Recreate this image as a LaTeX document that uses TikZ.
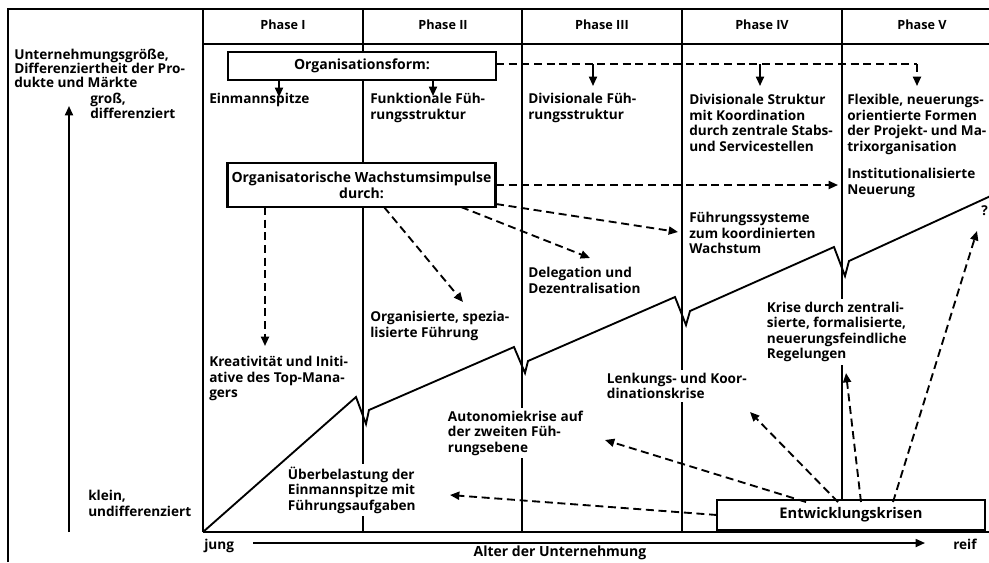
\documentclass[tikz,border=0pt]{standalone}
\usepackage{fontspec}
\setmainfont{Open Sans}
\usetikzlibrary{arrows.meta}
\begin{document}
\begin{tikzpicture}[x=0.75pt,y=-0.75pt,
  frame/.style={line width=1.5pt},
  txt/.style={anchor=north west,inner sep=0pt,align=left,font=\fontsize{10.2}{11.6}\selectfont\bfseries},
  crisis/.style={txt,fill=white,inner sep=2pt},
  phase/.style={inner sep=0pt,font=\fontsize{9.5}{11}\selectfont\bfseries},
  boxa/.style={draw,line width=1.6pt,fill=white,inner sep=0pt,align=center,font=\fontsize{10.5}{12}\selectfont\bfseries,minimum width=201pt},
  arr/.style={line width=1.3pt,-{Triangle[length=7pt,width=6pt]}},
  dsh/.style={line width=1.4pt,dash pattern=on 6pt off 3.5pt,-{Triangle[length=7pt,width=6pt]}},
  dshl/.style={line width=1.4pt,dash pattern=on 6pt off 3.5pt}]
\useasboundingbox (0,0) rectangle (989,562);
\clip (0,0) rectangle (989,562);
% frame and grid
\draw[frame] (8,562) -- (8,9) -- (995,9);
\draw[frame] (203,44) -- (995,44);
\foreach \xx in {203,363,522,682,842} \draw[frame] (\xx,9) -- (\xx,532);
\draw[frame] (203,532) -- (995,532);
% phase labels
\node[phase] (p1) at (283,25) {Phase I};
\node[phase] (p2) at (443,25) {Phase II};
\node[phase] (p3) at (602,25) {Phase III};
\node[phase] (p4) at (762,25) {Phase IV};
\node[phase] (p5) at (922,25) {Phase V};
% crisis texts (interrupt column lines)
\node[crisis] (ueb) at (285,464) {Überbelastung der\\Einmannspitze mit\\Führungsaufgaben};
\node[crisis] (auto) at (445,408) {Autonomiekrise auf\\der zweiten Füh-\\rungsebene};
\node[crisis] (lenk) at (604,370) {Lenkungs- und Koor-\\dinationskrise};
\node[crisis] (kzen) at (764,299) {Krise durch zentrali-\\sierte, formalisierte,\\neuerungsfeindliche\\Regelungen};
% growth curve
\draw[line width=1.4pt] (203,532) -- (356,397) -- (366,424) -- (369,410) -- (514,347) -- (525,373) -- (528,361) -- (675,297) -- (686,325) -- (690,311) -- (834,247) -- (845,276) -- (849,261) -- (995,194);
% axes
\draw[arr] (69,532) -- (69,106);
\draw[arr] (253,543) -- (925,543);
\node[txt,font=\fontsize{10.2}{10.6}\selectfont\bfseries] (ylab) at (14,49) {Unternehmungsgröße,\\Differenziertheit der Pro-\\dukte und Märkte};
\node[txt,font=\fontsize{10.2}{8.6}\selectfont\bfseries] (gross) at (90,93) {groß,\\differenziert};
\node[txt] (klein) at (88,490) {klein,\\undifferenziert};
\node[txt] (jung) at (204,539) {jung};
\node[inner sep=0pt,font=\fontsize{10.5}{12}\selectfont\bfseries] (alter) at (560,553) {Alter der Unternehmung};
\node[txt] (reif) at (953,539) {reif};
% boxes
\node[boxa,minimum height=21pt] (org) at (362,66) {Organisationsform:};
\node[boxa,minimum height=33pt] (wachs) at (361.5,185) {Organisatorische Wachstumsimpulse\\durch:};
\node[boxa,minimum height=22.5pt,font=\fontsize{11}{12}\selectfont\bfseries] (ek) at (851,515) {Entwicklungskrisen};
% organisation texts
\node[txt] (ein) at (209,93) {Einmannspitze};
\node[txt] (funk) at (370,93) {Funktionale Füh-\\rungsstruktur};
\node[txt] (divf) at (528,93) {Divisionale Füh-\\rungsstruktur};
\node[txt] (divs) at (689,94) {Divisionale Struktur\\mit Koordination\\durch zentrale Stabs-\\und Servicestellen};
\node[txt] (flex) at (847,94) {Flexible, neuerungs-\\orientierte Formen\\der Projekt- und Ma-\\trixorganisation};
\node[txt] (inst) at (847,168) {Institutionalisierte\\Neuerung};
\node[txt] (fsys) at (689,212) {Führungssysteme\\zum koordinierten\\Wachstum};
\node[txt] (deleg) at (528,267) {Delegation und\\Dezentralisation};
\node[txt] (orgsp) at (370,311) {Organisierte, spezia-\\lisierte Führung};
\node[txt] (krea) at (209,356) {Kreativität und Initi-\\ative des Top-Mana-\\gers};
\node[txt] (q) at (981,205) {?};
% organisationsform arrows
\coordinate (o1) at (279,80); \coordinate (o1e) at (279,97);
\coordinate (o2) at (433,80); \coordinate (o2e) at (433,96);
\draw[arr] (o1) -- (o1e);
\draw[arr] (o2) -- (o2e);
\coordinate (oR) at (496,64); \coordinate (oC) at (917,64);
\coordinate (oP3) at (593,64); \coordinate (oP3e) at (593,86);
\coordinate (oP4) at (760,64); \coordinate (oP4e) at (760,86);
\coordinate (oP5e) at (917,86);
\draw[dshl] (oR) -- (oC);
\draw[dsh] (oC) -- (oP5e);
\draw[arr] (oP3) -- (oP3e);
\draw[arr] (oP4) -- (oP4e);
% growth impulse arrows
\coordinate (w1) at (265,207); \coordinate (w1e) at (265,346);
\coordinate (w2) at (384,207); \coordinate (w2e) at (463,302);
\coordinate (w3) at (461,207); \coordinate (w3e) at (590,258);
\coordinate (w4) at (496,204); \coordinate (w4e) at (678,232);
\coordinate (w5) at (496,185); \coordinate (w5e) at (838,185);
\draw[dsh] (w1) -- (w1e);
\draw[dsh] (w2) -- (w2e);
\draw[dsh] (w3) -- (w3e);
\draw[dsh] (w4) -- (w4e);
\draw[dsh] (w5) -- (w5e);
% crisis arrows
\coordinate (e1) at (717,515); \coordinate (e1e) at (450,495);
\coordinate (e2) at (806,502); \coordinate (e2e) at (605,440);
\coordinate (e3) at (838,502); \coordinate (e3e) at (750,412);
\coordinate (e4) at (861,502); \coordinate (e4e) at (846,373);
\coordinate (e5) at (893,502); \coordinate (e5e) at (977,231);
\draw[dsh] (e1) -- (e1e);
\draw[dsh] (e2) -- (e2e);
\draw[dsh] (e3) -- (e3e);
\draw[dsh] (e4) -- (e4e);
\draw[dsh] (e5) -- (e5e);
\end{tikzpicture}
\end{document}
